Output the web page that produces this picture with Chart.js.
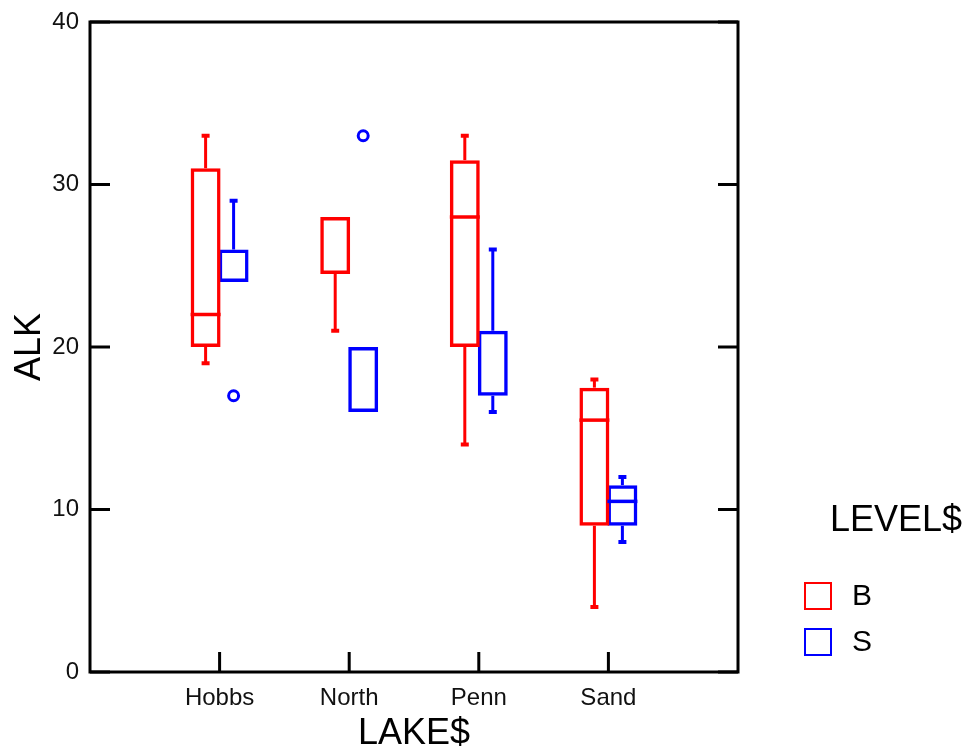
<!DOCTYPE html>
<html>
<head>
<meta charset="utf-8">
<title>ALK by LAKE$ and LEVEL$</title>
<script src="https://cdn.jsdelivr.net/npm/chart.js@4/dist/chart.umd.min.js"></script>
<style>
  html, body { margin: 0; padding: 0; background: #ffffff; }
  canvas { display: block; }
</style>
</head>
<body>
<canvas id="chart" width="972" height="752"></canvas>
<script>
// Lakes along the x axis
const lakes = ['Hobbs', 'North', 'Penn', 'Sand'];
const yTicks = [0, 10, 20, 30, 40];

// Level B: five-number summaries per lake
const bMin    = [19, 21, 14, 4];
const bQ1     = [20, 24.5, 20, 9];
const bMedian = [22, 28, 28, 15.5];
const bQ3     = [31, 28, 31.5, 17.5];
const bMax    = [33, 28, 33, 18];
const bOutliers = [[], [], [], []];

// Level S: five-number summaries per lake
const sMin    = [24, 16, 16, 8];
const sQ1     = [24, 16, 17, 9];
const sMedian = [24, 20, 17, 10.5];
const sQ3     = [26, 20, 21, 11.5];
const sMax    = [29, 20, 26, 12];
const sOutliers = [[17], [33], [], []];

const FONT = "'Liberation Sans', Arial, sans-serif";
const RED = '#ff0000';
const BLUE = '#0000ff';

function boxDataset(label, color, q1, q3, min, median, max, outliers) {
  return {
    label: label,
    data: lakes.map((_, i) => ({ x: i + 1, y: [q1[i], q3[i]] })),
    borderColor: color,
    backgroundColor: 'rgba(0,0,0,0)',
    borderWidth: 3.5,
    borderSkipped: false,
    stats: { min: min, median: median, max: max, outliers: outliers }
  };
}

// Whiskers, caps, median lines and outlier circles, placed on each box
const boxWhiskers = {
  id: 'boxWhiskers',
  afterDatasetsDraw(chart) {
    const ctx = chart.ctx;
    const ys = chart.scales.y;
    chart.data.datasets.forEach((ds, di) => {
      const meta = chart.getDatasetMeta(di);
      const st = ds.stats;
      ctx.save();
      ctx.strokeStyle = ds.borderColor;
      ctx.lineCap = 'butt';
      meta.data.forEach((bar, i) => {
        const cx = bar.x;
        const w = bar.width;
        const q1 = ds.data[i].y[0];
        const q3 = ds.data[i].y[1];
        const yq1 = ys.getPixelForValue(q1);
        const yq3 = ys.getPixelForValue(q3);
        const yMin = ys.getPixelForValue(st.min[i]);
        const yMax = ys.getPixelForValue(st.max[i]);
        const yMed = ys.getPixelForValue(st.median[i]);
        ctx.lineWidth = 3;
        if (st.max[i] > q3) {
          ctx.beginPath(); ctx.moveTo(cx, yq3); ctx.lineTo(cx, yMax); ctx.stroke();
          ctx.lineWidth = 4;
          ctx.beginPath(); ctx.moveTo(cx - 4, yMax); ctx.lineTo(cx + 4, yMax); ctx.stroke();
        }
        ctx.lineWidth = 3;
        if (st.min[i] < q1) {
          ctx.beginPath(); ctx.moveTo(cx, yq1); ctx.lineTo(cx, yMin); ctx.stroke();
          ctx.lineWidth = 4;
          ctx.beginPath(); ctx.moveTo(cx - 4, yMin); ctx.lineTo(cx + 4, yMin); ctx.stroke();
        }
        // a median lying on a hinge is already shown by the box edge
        if (st.median[i] > q1 && st.median[i] < q3) {
          ctx.lineWidth = 3.5;
          ctx.beginPath(); ctx.moveTo(cx - w / 2, yMed); ctx.lineTo(cx + w / 2, yMed); ctx.stroke();
        }
        ctx.lineWidth = 3;
        st.outliers[i].forEach(v => {
          ctx.beginPath();
          ctx.arc(cx, ys.getPixelForValue(v), 5, 0, Math.PI * 2);
          ctx.stroke();
        });
      });
      ctx.restore();
    });
  }
};

// Closed frame with inward tick marks on left, right and bottom
const frameTicks = {
  id: 'frameTicks',
  afterDraw(chart) {
    const ctx = chart.ctx;
    const a = chart.chartArea;
    const ys = chart.scales.y;
    const xs = chart.scales.x;
    const len = 20;
    ctx.save();
    ctx.strokeStyle = '#000000';
    ctx.lineWidth = 3;
    ctx.strokeRect(a.left, a.top, a.right - a.left, a.bottom - a.top);
    ctx.beginPath();
    yTicks.forEach(v => {
      const py = ys.getPixelForValue(v);
      ctx.moveTo(a.left, py); ctx.lineTo(a.left + len, py);
      ctx.moveTo(a.right, py); ctx.lineTo(a.right - len, py);
    });
    lakes.forEach((_, i) => {
      const px = xs.getPixelForValue(i + 1);
      ctx.moveTo(px, a.bottom); ctx.lineTo(px, a.bottom - len);
    });
    ctx.stroke();
    ctx.restore();
  }
};

// Legend block to the right of the frame
const levelLegend = {
  id: 'levelLegend',
  afterDraw(chart) {
    const ctx = chart.ctx;
    const a = chart.chartArea;
    const x0 = a.right + 66;
    ctx.save();
    ctx.fillStyle = '#000000';
    ctx.textBaseline = 'middle';
    ctx.textAlign = 'left';
    ctx.font = '36px ' + FONT;
    ctx.fillText('LEVEL$', x0 + 26, a.bottom - 151);
    chart.data.datasets.forEach((ds, i) => {
      const top = a.bottom - 90 + i * 46;
      ctx.lineWidth = 2;
      ctx.strokeStyle = ds.borderColor;
      ctx.strokeRect(x0 + 1, top + 1, 26, 26);
      ctx.fillStyle = '#000000';
      ctx.font = '30px ' + FONT;
      ctx.fillText(ds.label, x0 + 48, top + 15);
    });
    ctx.restore();
  }
};

new Chart(document.getElementById('chart'), {
  type: 'bar',
  data: {
    datasets: [
      boxDataset('B', RED, bQ1, bQ3, bMin, bMedian, bMax, bOutliers),
      boxDataset('S', BLUE, sQ1, sQ3, sMin, sMedian, sMax, sOutliers)
    ]
  },
  options: {
    responsive: false,
    animation: false,
    events: [],
    layout: { padding: { top: 22, right: 234, bottom: 0, left: 0 } },
    datasets: { bar: { categoryPercentage: 0.432, barPercentage: 1.07, grouped: true } },
    plugins: { legend: { display: false }, tooltip: { enabled: false } },
    scales: {
      x: {
        type: 'linear',
        offset: false,
        min: 0,
        max: lakes.length + 1,
        grid: { display: false, drawTicks: false },
        border: { display: false },
        afterFit(scale) {
          scale.height = 80;
          scale.paddingLeft = 0;
          scale.paddingRight = 0;
        },
        afterBuildTicks(scale) {
          scale.ticks = [0, 1, 2, 3, 4, 5].map(v => ({ value: v }));
        },
        ticks: {
          autoSkip: false,
          maxRotation: 0,
          padding: 12,
          color: '#111111',
          font: { family: FONT, size: 24 },
          callback: (v) => (v >= 1 && v <= lakes.length ? lakes[v - 1] : '')
        },
        title: {
          display: true,
          text: 'LAKE$',
          color: '#000000',
          font: { family: FONT, size: 36, lineHeight: 1 },
          padding: { top: 0, bottom: 0 }
        }
      },
      y: {
        type: 'linear',
        min: 0,
        max: 40,
        grid: { display: false, drawTicks: false },
        border: { display: false },
        afterFit(scale) {
          scale.width = 90;
          scale.paddingTop = 0;
          scale.paddingBottom = 0;
        },
        ticks: {
          stepSize: 10,
          padding: 11,
          color: '#111111',
          font: { family: FONT, size: 24 }
        },
        title: {
          display: true,
          text: 'ALK',
          color: '#000000',
          font: { family: FONT, size: 36, lineHeight: 1 },
          padding: { top: 12, bottom: 0 }
        }
      }
    }
  },
  plugins: [boxWhiskers, frameTicks, levelLegend]
});
</script>
</body>
</html>
